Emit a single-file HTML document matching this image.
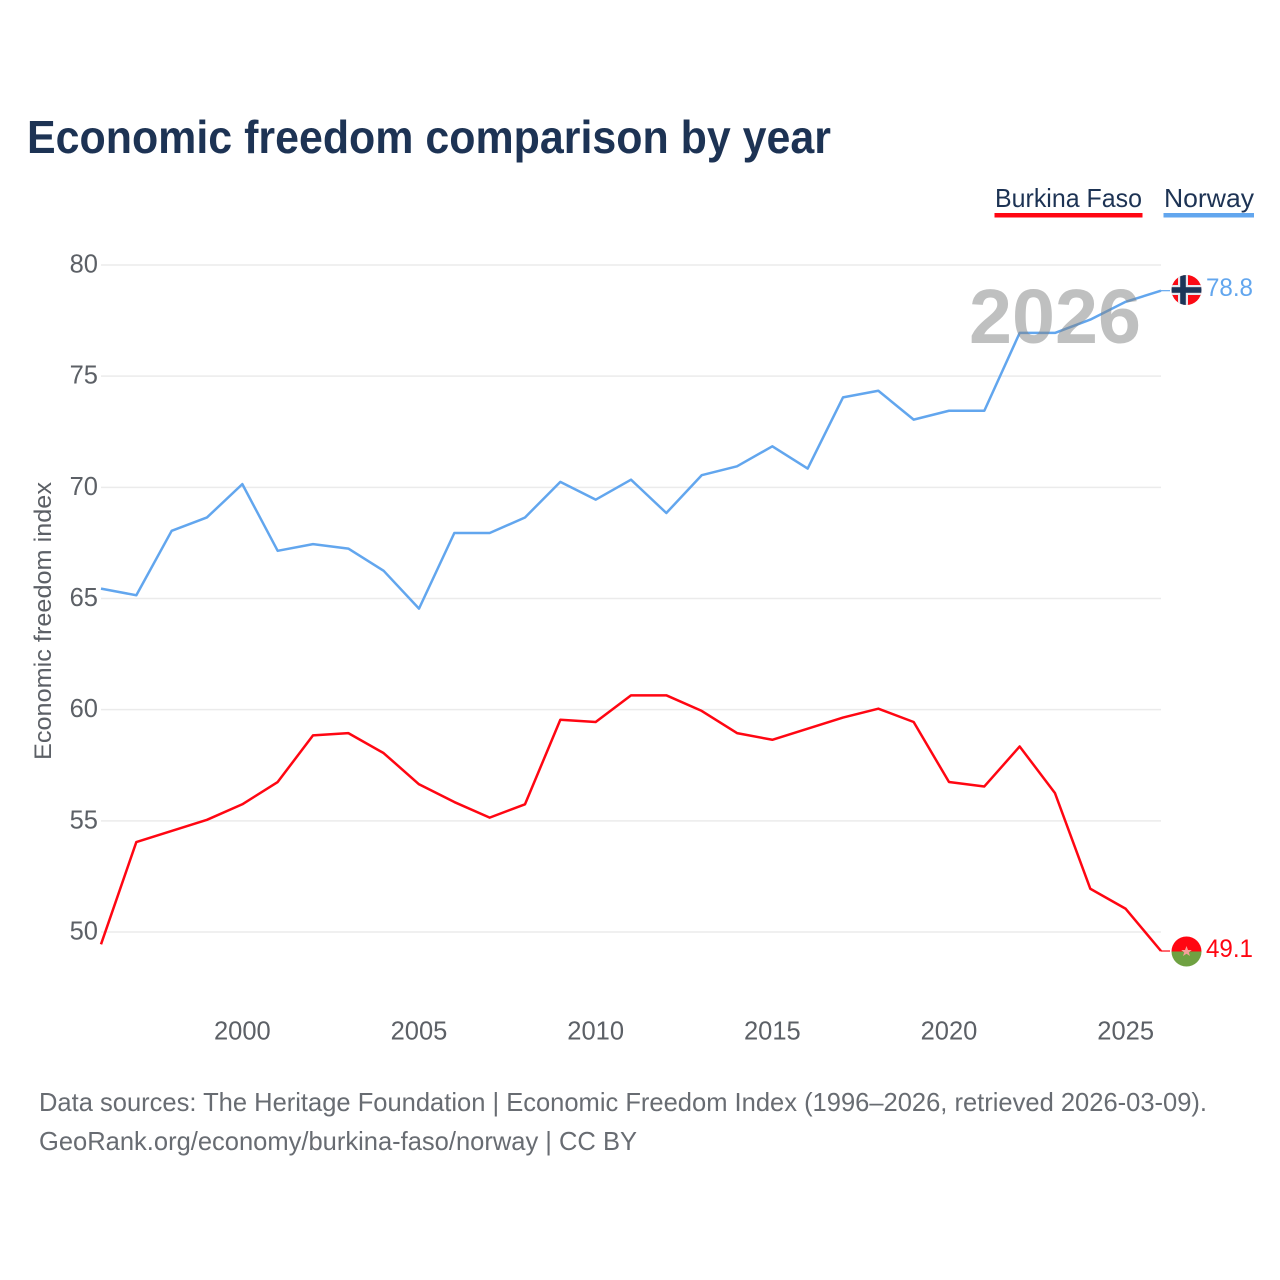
<!DOCTYPE html>
<html lang="en">
<head>
<meta charset="utf-8">
<title>Economic freedom comparison by year</title>
<style>
html,body{margin:0;padding:0;background:#fff;width:1280px;height:1280px;overflow:hidden}
svg{display:block}
text{font-family:"Liberation Sans",sans-serif}
</style>
</head>
<body>
<svg id="chart" xmlns="http://www.w3.org/2000/svg" width="1280" height="1280" viewBox="0 0 1280 1280">
<rect x="0" y="0" width="1280" height="1280" fill="#ffffff"/>
<text x="27" y="153" font-size="46" font-weight="700" fill="#1d3354" textLength="804" lengthAdjust="spacingAndGlyphs">Economic freedom comparison by year</text>
<g id="grid"></g>
<g id="yaxis"></g>
<g id="xaxis"></g>
<text transform="translate(51,760) rotate(-90)" x="0" y="0" font-size="24" fill="#5c6066" textLength="278" lengthAdjust="spacingAndGlyphs">Economic freedom index</text>
<g id="series"></g>
<text x="969" y="343" font-size="77" font-weight="700" fill="#7f8282" fill-opacity="0.5" textLength="172" lengthAdjust="spacingAndGlyphs">2026</text>
<g>
  <g>
    <text x="995" y="207" font-size="26" fill="#1d3354" textLength="147" lengthAdjust="spacingAndGlyphs">Burkina Faso</text>
    <rect x="994.5" y="213" width="148" height="4.5" fill="#ff0612"/>
  </g>
  <g>
    <text x="1164" y="207" font-size="26" fill="#1d3354" textLength="90" lengthAdjust="spacingAndGlyphs">Norway</text>
    <rect x="1163.5" y="213" width="90.5" height="4.5" fill="#62a6ee"/>
  </g>
</g>
<defs>
  <clipPath id="flag-clip-no"><circle cx="1186.5" cy="290" r="15"/></clipPath>
  <clipPath id="flag-clip-bf"><circle cx="1186.5" cy="951.5" r="15"/></clipPath>
</defs>
<g clip-path="url(#flag-clip-no)">
  <rect x="1171" y="275" width="31" height="31" fill="#fb0a14"/>
  <rect x="1171" y="285" width="31" height="10" fill="#e4e8ee"/>
  <rect x="1178" y="275" width="10" height="31" fill="#e4e8ee"/>
  <rect x="1171" y="287.2" width="31" height="5.6" fill="#1d3557"/>
  <rect x="1180.2" y="275" width="5.6" height="31" fill="#1d3557"/>
</g>
<g clip-path="url(#flag-clip-bf)">
  <rect x="1171" y="936" width="31" height="15.5" fill="#ff0612"/>
  <rect x="1171" y="951.5" width="31" height="16" fill="#6fa142"/>
  <polygon points="1186.5,946 1188,950 1191.8,950 1188.8,952.4 1190,956 1186.5,953.8 1183,956 1184.2,952.4 1181.2,950 1185,950" fill="#f7a09a"/>
</g>
<text id="label-no" x="1206" y="296" font-size="25" fill="#62a6ee" textLength="47" lengthAdjust="spacingAndGlyphs"></text>
<text id="label-bf" x="1206" y="957" font-size="25" fill="#ff0612" textLength="47" lengthAdjust="spacingAndGlyphs"></text>
<g>
  <text x="39" y="1111" font-size="26" fill="#686c72" textLength="1168" lengthAdjust="spacingAndGlyphs">Data sources: The Heritage Foundation | Economic Freedom Index (1996–2026, retrieved 2026-03-09).</text>
  <text x="39" y="1150" font-size="26" fill="#686c72" textLength="598" lengthAdjust="spacingAndGlyphs">GeoRank.org/economy/burkina-faso/norway | CC BY</text>
</g>
</svg>
<script>
const years = [1996,1997,1998,1999,2000,2001,2002,2003,2004,2005,2006,2007,2008,2009,2010,2011,2012,2013,2014,2015,2016,2017,2018,2019,2020,2021,2022,2023,2024,2025,2026];
const norwayValues = [65.4,65.1,68,68.6,70.1,67.1,67.4,67.2,66.2,64.5,67.9,67.9,68.6,70.2,69.4,70.3,68.8,70.5,70.9,71.8,70.8,74,74.3,73,73.4,73.4,76.9,76.9,77.5,78.3,78.8];
const burkinaValues = [49.4,54,54.5,55,55.7,56.7,58.8,58.9,58,56.6,55.8,55.1,55.7,59.5,59.4,60.6,60.6,59.9,58.9,58.6,59.1,59.6,60,59.4,56.7,56.5,58.3,56.2,51.9,51,49.1];
const yTicks = [50,55,60,65,70,75,80];
const xTicks = [2000,2005,2010,2015,2020,2025];

const NS = 'http://www.w3.org/2000/svg';
function xScale(year){ return 101 + (year - 1996) * (1161 - 101) / 30; }
function yScale(value){ return 932 - (value - 50) * (932 - 265) / 30; }
function lineY(value){ return yScale(value) - 1; }

const gridGroup = document.getElementById('grid');
const yGroup = document.getElementById('yaxis');
const xGroup = document.getElementById('xaxis');
const seriesGroup = document.getElementById('series');

yTicks.forEach(function(t){
  const line = document.createElementNS(NS,'line');
  
  
  line.setAttribute('x1', 101);
  line.setAttribute('x2', 1161);
  line.setAttribute('y1', yScale(t));
  line.setAttribute('y2', yScale(t));
  line.setAttribute('stroke', '#ebebeb');
  line.setAttribute('stroke-width', 1.5);
  gridGroup.appendChild(line);
  const label = document.createElementNS(NS,'text');
  
  
  label.setAttribute('x', 98);
  label.setAttribute('y', yScale(t) + 7.5);
  label.setAttribute('text-anchor', 'end');
  label.setAttribute('font-size', 25.5);
  label.setAttribute('fill', '#5c6066');
  label.textContent = t;
  yGroup.appendChild(label);
});

xTicks.forEach(function(t){
  const label = document.createElementNS(NS,'text');
  
  
  label.setAttribute('x', xScale(t));
  label.setAttribute('y', 1039.5);
  label.setAttribute('text-anchor', 'middle');
  label.setAttribute('font-size', 25.5);
  label.setAttribute('fill', '#5c6066');
  label.textContent = t;
  xGroup.appendChild(label);
});

function drawSeries(values, color){
  const pts = values.map(function(v,i){ return xScale(years[i]).toFixed(2) + ',' + lineY(v).toFixed(2); }).join(' ');
  const line = document.createElementNS(NS,'polyline');
  
  
  line.setAttribute('points', pts);
  line.setAttribute('fill', 'none');
  line.setAttribute('stroke', color);
  line.setAttribute('stroke-width', 2.5);
  line.setAttribute('stroke-linejoin', 'round');
  seriesGroup.appendChild(line);
  const last = values[values.length - 1];
  const conn = document.createElementNS(NS,'line');
  
  
  conn.setAttribute('x1', xScale(years[years.length - 1]));
  conn.setAttribute('x2', xScale(years[years.length - 1]) + 9);
  conn.setAttribute('y1', lineY(last));
  conn.setAttribute('y2', lineY(last));
  conn.setAttribute('stroke', color);
  conn.setAttribute('stroke-width', 1.2);
  seriesGroup.appendChild(conn);
}
drawSeries(burkinaValues, '#ff0612');
drawSeries(norwayValues, '#62a6ee');

document.getElementById('label-no').textContent = norwayValues[norwayValues.length - 1].toFixed(1);
document.getElementById('label-bf').textContent = burkinaValues[burkinaValues.length - 1].toFixed(1);
</script>
</body>
</html>
